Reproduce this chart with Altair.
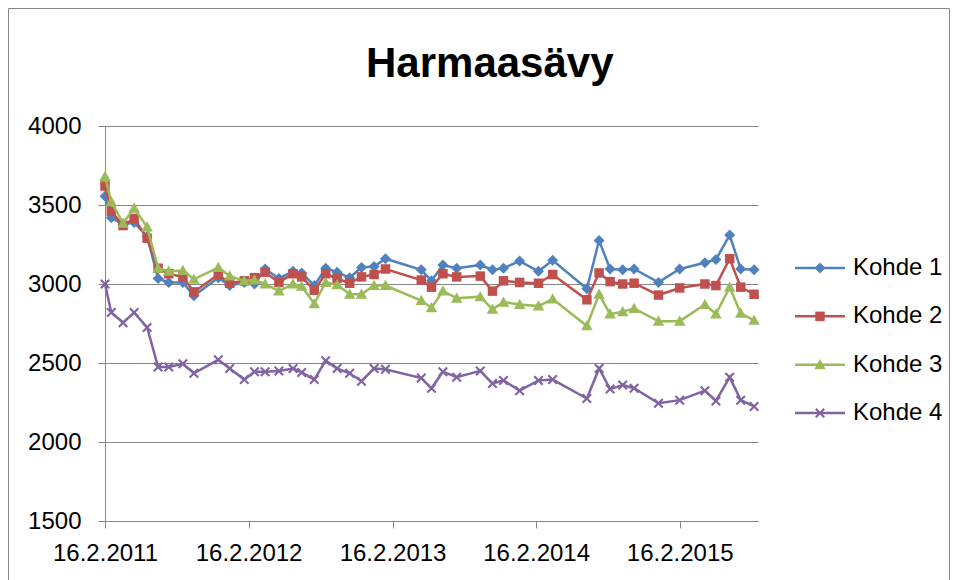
import altair as alt
import pandas as pd

dates = [
    "2011-02-16", "2011-03-04", "2011-04-03", "2011-05-01", "2011-06-03", "2011-07-01",
    "2011-07-28", "2011-09-02", "2011-09-30", "2011-12-01", "2011-12-30", "2012-02-05",
    "2012-03-02", "2012-03-29", "2012-05-03", "2012-06-08", "2012-06-30", "2012-08-01",
    "2012-08-30", "2012-09-28", "2012-10-30", "2012-11-29", "2012-12-31", "2013-01-29",
    "2013-04-30", "2013-05-26", "2013-06-24", "2013-07-29", "2013-09-27", "2013-10-28",
    "2013-11-25", "2014-01-05", "2014-02-22", "2014-03-30", "2014-06-25", "2014-07-26",
    "2014-08-23", "2014-09-24", "2014-10-23", "2014-12-24", "2015-02-16", "2015-04-21",
    "2015-05-19", "2015-06-23", "2015-07-21", "2015-08-24",
]

kohde1 = [3555, 3420, 3375, 3390, 3300, 3035, 3010, 3010, 2925, 3040, 2990, 3010,
          3000, 3095, 3035, 3080, 3070, 2990, 3100, 3075, 3040, 3105, 3110, 3160,
          3090, 3020, 3120, 3100, 3120, 3090, 3100, 3145, 3080, 3150, 2970, 3275,
          3095, 3090, 3095, 3010, 3095, 3135, 3155, 3310, 3095, 3090]
kohde2 = [3620, 3460, 3370, 3415, 3290, 3100, 3065, 3045, 2950, 3060, 3005, 3020,
          3040, 3075, 3010, 3065, 3045, 2960, 3065, 3035, 3005, 3045, 3060, 3095,
          3025, 2980, 3065, 3045, 3050, 2955, 3020, 3010, 3005, 3060, 2900, 3070,
          3015, 3000, 3005, 2930, 2975, 3000, 2990, 3160, 2980, 2935]
kohde3 = [3680, 3520, 3385, 3480, 3360, 3100, 3080, 3085, 3030, 3105, 3050, 3020,
          3025, 3000, 2955, 3000, 2985, 2875, 3010, 2995, 2935, 2935, 2990, 2990,
          2895, 2850, 2955, 2910, 2920, 2840, 2885, 2870, 2860, 2905, 2735, 2935,
          2810, 2825, 2845, 2765, 2765, 2870, 2810, 2980, 2815, 2770]
kohde4 = [3000, 2820, 2755, 2820, 2725, 2475, 2475, 2495, 2435, 2520, 2465, 2395,
          2445, 2445, 2450, 2465, 2440, 2395, 2515, 2465, 2435, 2385, 2465, 2460,
          2405, 2340, 2445, 2410, 2450, 2370, 2390, 2325, 2390, 2395, 2275, 2465,
          2335, 2360, 2340, 2245, 2265, 2325, 2260, 2410, 2265, 2225]

series_names = ["Kohde 1", "Kohde 2", "Kohde 3", "Kohde 4"]
series_values = [kohde1, kohde2, kohde3, kohde4]
colors = ["#4F81BD", "#C0504D", "#9BBB59", "#8064A2"]
y_ticks = [1500, 2000, 2500, 3000, 3500, 4000]
x_tick_years = [2011, 2012, 2013, 2014, 2015]

FONT = "Liberation Sans"
GRID = "#868686"

rows = []
for name, vals in zip(series_names, series_values):
    for d, v in zip(dates, vals):
        rows.append({"date": pd.Timestamp(d), "series": name, "value": v})
df = pd.DataFrame(rows)
legend_df = pd.DataFrame({"series": series_names})

x_poly = ("M-1,-0.7L-0.7,-1L0,-0.3L0.7,-1L1,-0.7L0.3,0L1,0.7L0.7,1L0,0.3"
          "L-0.7,1L-1,0.7L-0.3,0Z")
marker_paths = [
    "M0,-1.1L1.1,0L0,1.1L-1.1,0Z",
    "M-0.95,-0.95H0.95V0.95H-0.95Z",
    "M0,-1.15L1.15,0.9L-1.15,0.9Z",
    x_poly,
]

color_scale = alt.Scale(domain=series_names, range=colors)

x_enc = alt.X(
    "date:T",
    scale=alt.Scale(domain=[alt.DateTime(year=2011, month=2, date=16),
                            alt.DateTime(year=2015, month=9, date=3)]),
    axis=alt.Axis(
        values=[alt.DateTime(year=y, month=2, date=16) for y in x_tick_years],
        format="%-d.%-m.%Y", title=None, grid=False,
        domainColor=GRID, domainWidth=1, tickColor=GRID, tickSize=7,
        labelFont=FONT, labelFontSize=24, labelColor="#000000",
        labelPadding=13, labelFlush=False, labelOverlap=False,
    ),
)
y_enc = alt.Y(
    "value:Q",
    scale=alt.Scale(domain=[1500, 4000], nice=False, zero=False),
    axis=alt.Axis(
        values=y_ticks, format="d", title=None, grid=True, gridColor=GRID, gridWidth=1,
        domainColor=GRID, domainWidth=1, tickColor=GRID, tickSize=7,
        labelFont=FONT, labelFontSize=24, labelColor="#000000", labelPadding=17,
    ),
)

base = alt.Chart(df)

main_layers = []
border = alt.Chart(pd.DataFrame({"a": [0]})).mark_rect(
    fillOpacity=0, stroke=GRID, strokeWidth=1
).encode(
    x=alt.value(-96.5), x2=alt.value(844.5), y=alt.value(-117.5), y2=alt.value(470)
)
main_layers.append(border)

for name, path in zip(series_names, marker_paths):
    sub = base.transform_filter(alt.datum.series == name)
    line = sub.mark_line(strokeWidth=2.5).encode(
        x=x_enc, y=y_enc,
        color=alt.Color("series:N", scale=color_scale, legend=None),
    )
    pts = sub.mark_point(shape=path, filled=True, size=100, strokeWidth=0, opacity=1).encode(
        x=x_enc, y=y_enc,
        color=alt.Color("series:N", scale=color_scale, legend=None),
    )
    main_layers += [line, pts]

main = alt.layer(*main_layers)

# legend (series key) drawn as marks on its own point scale
leg_y = alt.Y("series:N", scale=alt.Scale(type="point", domain=series_names,
                                          range=[142, 287], padding=0), axis=None)
leg_base = alt.Chart(legend_df)
leg_line = leg_base.mark_rule(strokeWidth=2.5).encode(
    x=alt.value(690), x2=alt.value(740), y=leg_y,
    color=alt.Color("series:N", scale=color_scale, legend=None),
)
leg_pts = leg_base.mark_point(filled=True, size=100, strokeWidth=0, opacity=1).encode(
    x=alt.value(715), y=leg_y,
    color=alt.Color("series:N", scale=color_scale, legend=None),
    shape=alt.Shape("series:N", scale=alt.Scale(domain=series_names, range=marker_paths),
                    legend=None),
)
leg_text = leg_base.mark_text(
    align="left", baseline="middle", font=FONT, fontSize=24, color="#000000"
).encode(x=alt.value(748), y=leg_y, text="series:N")
legend = alt.layer(leg_line, leg_pts, leg_text)

chart = alt.layer(main, legend).resolve_scale(y="independent").properties(
    width=653, height=395,
    title=alt.TitleParams(
        "Harmaasävy", font=FONT, fontSize=42, fontWeight="bold", color="#000000",
        anchor="start", dx=358, dy=111, offset=0, baseline="alphabetic",
    ),
    autosize=alt.AutoSizeParams(type="none"),
    padding={"left": 97, "top": 118, "right": 192, "bottom": 59},
    background="#ffffff",
).configure_view(stroke=None)

chart.save("out.html", embed_options={"renderer": "svg", "actions": False})
